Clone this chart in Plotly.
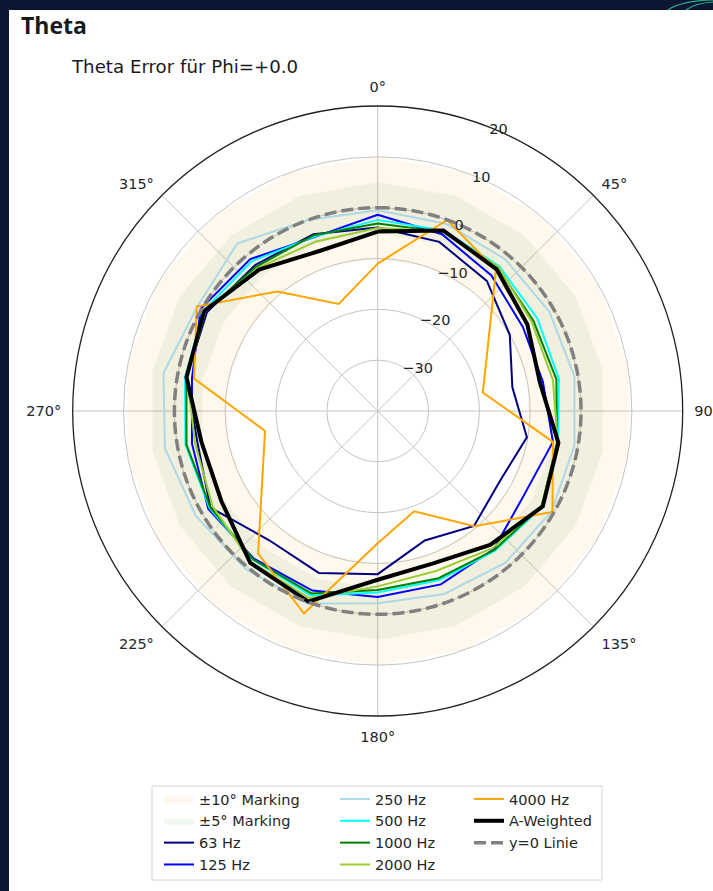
import plotly.graph_objects as go

# ---------------- data ----------------
angles_deg = [0, 20, 40, 60, 80, 100, 120, 140, 160, 180, 200, 220, 240, 260, 280, 300, 320, 340]

hz63 = [-3.9, -4.6, -6.6, -10.0, -13.1, -10.2, -12.3, -10.5, -12.9, -7.9, -6.1, -6.8, -2.0, -4.0, -1.8, -1.2, -2.5, -3.0]
hz125 = [-1.4, -3.0, -5.2, -7.0, -7.0, -5.0, -6.8, -4.5, -3.7, -3.4, -2.4, -2.1, -1.5, -2.9, -2.9, 0.2, -1.0, -3.6]
hz250 = [-0.5, -0.8, -1.0, -1.0, -0.7, -0.7, -0.5, -1.0, -1.7, -2.2, 0.3, 0.5, 1.3, 2.5, 2.8, 1.0, 3.0, 0.0]
hz500 = [-2.4, -2.2, -2.8, -3.7, -3.8, -4.0, -2.5, -4.1, -4.6, -4.3, -1.4, -1.8, -1.8, -1.6, -1.5, -0.5, -1.5, -3.5]
hz1000 = [-3.1, -2.5, -3.2, -4.6, -4.3, -4.2, -2.7, -4.3, -5.0, -4.8, -1.8, -1.9, -2.0, -1.8, -1.8, -0.8, -2.9, -3.2]
hz2000 = [-4.0, -2.4, -3.0, -5.0, -5.0, -4.0, -2.8, -4.8, -6.5, -5.5, -0.8, -1.2, -2.5, -3.5, -2.0, -0.8, -3.3, -4.5]
hz4000 = [-11.0, 0.0, -3.8, -15.0, -19.0, -5.0, -0.3, -10.4, -19.0, -14.0, 2.4, -3.4, -13.8, -17.5, -3.3, 1.1, -9.3, -17.6]
a_weighted = [-4.7, -2.2, -3.6, -6.0, -7.6, -3.9, -2.5, -5.6, -8.1, -6.8, -0.1, -1.0, -4.5, -4.8, -1.8, -0.6, -3.7, -6.5]

band10 = [-10, 10]
band5 = [-5, 5]
zero_line_theta = list(range(0, 361, 2))
radial_ticks = [-30, -20, -10, 0, 10, 20]
angular_ticks = [0, 45, 90, 135, 180, 225, 270, 315]

series_names = ["63 Hz", "125 Hz", "250 Hz", "500 Hz", "1000 Hz", "2000 Hz", "4000 Hz"]
series_values = [hz63, hz125, hz250, hz500, hz1000, hz2000, hz4000]
series_colors = ["#000080", "#0000ff", "#add8e6", "#00ffff", "#008000", "#9acd32", "#ffa500"]
series_legend = ["legend", "legend", "legend2", "legend2", "legend2", "legend2", "legend3"]

# ---------------- layout geometry ----------------
W, H = 713, 891
cx, cy, R = 377.7, 411.0, 305.0


def fx(x):
    return x / W


def fy(y):
    return 1 - y / H


FONT = "DejaVu Sans"
fig = go.Figure()

closed_theta = angles_deg + [360]


def ring(lo, hi):
    th = closed_theta + closed_theta[::-1]
    rr = [hi] * len(closed_theta) + [lo] * len(closed_theta)
    return th, rr


th, rr = ring(*band10)
fig.add_trace(go.Scatterpolar(theta=th, r=rr, mode="lines", fill="toself",
                              fillcolor="rgba(255,165,0,0.075)", line=dict(width=0),
                              name="±10° Marking", legend="legend", hoverinfo="skip"))
th, rr = ring(*band5)
fig.add_trace(go.Scatterpolar(theta=th, r=rr, mode="lines", fill="toself",
                              fillcolor="rgba(0,110,0,0.055)", line=dict(width=0),
                              name="±5° Marking", legend="legend", hoverinfo="skip"))

for name, vals, col, lg in zip(series_names, series_values, series_colors, series_legend):
    fig.add_trace(go.Scatterpolar(theta=closed_theta, r=vals + vals[:1], mode="lines",
                                  line=dict(color=col, width=2), name=name, legend=lg))

fig.add_trace(go.Scatterpolar(theta=closed_theta, r=a_weighted + a_weighted[:1], mode="lines",
                              line=dict(color="black", width=4), name="A-Weighted", legend="legend3"))

fig.add_trace(go.Scatterpolar(theta=zero_line_theta, r=[0] * len(zero_line_theta), mode="lines",
                              line=dict(color="rgba(128,128,128,1)", width=3.5, dash="12px,5px"),
                              name="y=0 Linie", legend="legend3"))

tickfont = dict(family=FONT, size=14.5, color="#262626")
legfont = dict(family=FONT, size=14.5, color="#262626")
fig.update_layout(
    width=W, height=H,
    margin=dict(l=0, r=0, t=0, b=0),
    paper_bgcolor="white",
    showlegend=True,
    polar=dict(
        domain=dict(x=[fx(cx - R), fx(cx + R)], y=[fy(cy + R), fy(cy - R)]),
        bgcolor="white",
        angularaxis=dict(rotation=90, direction="clockwise", tickmode="array",
                         tickvals=angular_ticks, ticktext=[f"{a}°" for a in angular_ticks],
                         showgrid=True, gridcolor="#c4c4c4", gridwidth=1,
                         showline=True, linecolor="#222222", linewidth=1.3,
                         ticks="outside", ticklen=8, tickcolor="rgba(0,0,0,0)",
                         tickfont=tickfont),
        radialaxis=dict(range=[-40, 20], tickmode="array", tickvals=radial_ticks,
                        angle=70, tickangle=70, showline=False, ticks="",
                        showgrid=True, gridcolor="#c4c4c4", gridwidth=1,
                        tickfont=tickfont, side="clockwise"),
    ),
    legend=dict(x=fx(159), y=fy(783), xanchor="left", yanchor="top", bgcolor="rgba(0,0,0,0)",
                font=legfont, tracegroupgap=0),
    legend2=dict(x=fx(335), y=fy(783), xanchor="left", yanchor="top", bgcolor="rgba(0,0,0,0)",
                 font=legfont, tracegroupgap=0),
    legend3=dict(x=fx(469), y=fy(783), xanchor="left", yanchor="top", bgcolor="rgba(0,0,0,0)",
                 font=legfont, tracegroupgap=0),
    shapes=[
        dict(type="rect", xref="paper", yref="paper", x0=0, x1=1, y0=fy(10), y1=1,
             fillcolor="#0b1633", line=dict(width=0), layer="above"),
        dict(type="rect", xref="paper", yref="paper", x0=0, x1=fx(9), y0=0, y1=1,
             fillcolor="#0b1633", line=dict(width=0), layer="above"),
        dict(type="path", xref="paper", yref="paper",
             path=f"M {fx(668)} {fy(10)} Q {fx(680)} {fy(1)} {fx(713)} {fy(0)}",
             line=dict(color="#2fb58a", width=1.2), layer="above"),
        dict(type="path", xref="paper", yref="paper",
             path=f"M {fx(686)} {fy(10)} Q {fx(695)} {fy(3)} {fx(713)} {fy(2)}",
             line=dict(color="#2fb58a", width=1.2), layer="above"),
        dict(type="rect", xref="paper", yref="paper", x0=fx(152), x1=fx(602), y0=fy(880), y1=fy(786),
             fillcolor="white", line=dict(color="#d4d4d4", width=1), layer="below"),
    ],
    annotations=[
        dict(text="<b>Theta</b>", x=fx(19), y=fy(25), xref="paper", yref="paper",
             xanchor="left", yanchor="middle", showarrow=False,
             font=dict(family="Open Sans", size=23, color="#1a1a1a")),
        dict(text="Theta Error für Phi=+0.0", x=fx(69), y=fy(67), xref="paper", yref="paper",
             xanchor="left", yanchor="middle", showarrow=False,
             font=dict(family=FONT, size=18.2, color="#1a1a1a")),
    ],
)

fig.write_html("out.html", config={"displayModeBar": False},
               post_script="document.body.style.margin='0px';")
